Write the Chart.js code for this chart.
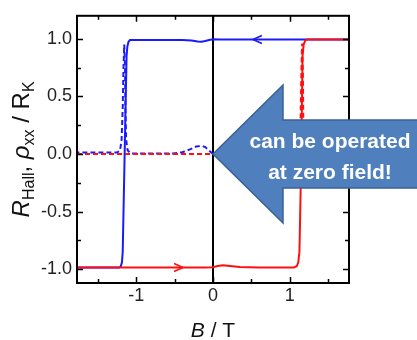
<!DOCTYPE html>
<html><head><meta charset="utf-8">
<script src="https://cdn.jsdelivr.net/npm/chart.js@4.4.0/dist/chart.umd.min.js"></script>
<style>html,body{margin:0;padding:0;background:#fff;}#wrap{width:417px;height:340px;}</style>
</head><body><div id="wrap"><canvas id="c" width="417" height="340"></canvas></div>
<script>
// ---- data ----
const xTicks = [-1, 0, 1];
const xMinorTicks = [-1.5, -0.5, 0.5, 1.5];
const yTicks = [-1, -0.5, 0, 0.5, 1];
const yMinorTicks = [-0.75, -0.25, 0.25, 0.75];

// Hall resistance, sweep down (blue)
const blueHallB = [1.77, 1.0, 0.5, 0.2, 0.08, 0.0, -0.05, -0.1, -0.15, -0.2, -0.28, -0.4, -0.7, -1.0, -1.08, -1.10, -1.115, -1.125, -1.15, -1.175, -1.185, -1.20, -1.22, -1.3, -1.77];
const blueHallR = [0.995, 0.995, 0.995, 0.995, 0.995, 0.997, 0.99, 0.982, 0.975, 0.977, 0.986, 0.99, 0.99, 0.99, 0.99, 0.975, 0.93, 0.85, 0.0, -0.85, -0.94, -0.975, -0.985, -0.985, -0.985];
// Hall resistance, sweep up (red)
const redHallB = [-1.77, -0.5, -0.1, 0.0, 0.06, 0.13, 0.22, 0.35, 0.6, 1.0, 1.05, 1.09, 1.11, 1.125, 1.15, 1.165, 1.18, 1.20, 1.22, 1.4, 1.77];
const redHallR = [-0.985, -0.985, -0.985, -0.983, -0.972, -0.965, -0.972, -0.982, -0.985, -0.985, -0.985, -0.975, -0.94, -0.85, 0.0, 0.85, 0.95, 0.985, 0.995, 0.995, 0.995];
// longitudinal resistivity, sweep down (blue dashed)
const blueRhoB = [1.77, 0.5, 0.0, -0.05, -0.1, -0.15, -0.22, -0.3, -0.4, -0.52, -0.8, -1.07, -1.11, -1.13, -1.14, -1.145, -1.155, -1.165, -1.175, -1.19, -1.21, -1.25, -1.5, -1.77];
const blueRhoV = [0.0, 0.0, 0.0, 0.03, 0.06, 0.07, 0.065, 0.04, 0.015, 0.005, 0.005, 0.005, 0.03, 0.12, 0.4, 0.75, 0.95, 0.75, 0.4, 0.12, 0.03, 0.012, 0.012, 0.012];
// longitudinal resistivity, sweep up (red dashed)
const redRhoB = [-1.77, -1.0, 0.0, 0.5, 1.08, 1.12, 1.14, 1.15, 1.16, 1.17, 1.175, 1.19, 1.22, 1.5, 1.77];
const redRhoV = [0.0, 0.0, 0.0, 0.0, 0.0, 0.03, 0.3, 0.7, 0.96, 0.7, 0.3, 0.05, 0.0, 0.0, 0.0];

// sweep-direction markers (field value, resistance, direction)
const sweepMarkB = [0.52, -0.39];
const sweepMarkR = [0.995, -0.985];
const sweepMarkDir = [-1, 1];

const BLUE = '#1a1aff', RED = '#ff1010';
const FONT = '"Liberation Sans", Arial, sans-serif';
const pts = (b, v) => b.map((x, i) => ({x, y: v[i]}));

const decor = {
  id: 'decor',
  beforeDatasetsDraw(chart) {
    const {ctx, chartArea: a, scales: {x}} = chart;
    const px = Math.round(x.getPixelForValue(0));
    ctx.save();
    ctx.strokeStyle = '#000'; ctx.lineWidth = 2;
    ctx.beginPath(); ctx.moveTo(px, a.top); ctx.lineTo(px, a.bottom); ctx.stroke();
    ctx.restore();
  },
  afterDatasetsDraw(chart) {
    const {ctx, chartArea: a, scales: {x, y}} = chart;
    ctx.save();
    // sweep direction chevrons
    const cols = [BLUE, RED];
    sweepMarkB.forEach((b, i) => {
      const px = x.getPixelForValue(b), py = y.getPixelForValue(sweepMarkR[i]), d = sweepMarkDir[i];
      ctx.strokeStyle = cols[i]; ctx.lineWidth = 1.6;
      ctx.beginPath();
      ctx.moveTo(px - d * 9, py - 4); ctx.lineTo(px, py); ctx.lineTo(px - d * 9, py + 4);
      ctx.stroke();
    });
    // frame
    ctx.strokeStyle = '#000'; ctx.lineWidth = 2;
    ctx.strokeRect(a.left, a.top, a.right - a.left, a.bottom - a.top);
    // inward ticks on all sides
    ctx.lineWidth = 1.5;
    ctx.beginPath();
    const xt = (vals, len) => vals.forEach(v => {
      const p = Math.round(x.getPixelForValue(v)) + 0.5;
      ctx.moveTo(p, a.bottom); ctx.lineTo(p, a.bottom - len);
      ctx.moveTo(p, a.top); ctx.lineTo(p, a.top + len);
    });
    const yt = (vals, len) => vals.forEach(v => {
      const p = Math.round(y.getPixelForValue(v)) + 0.5;
      ctx.moveTo(a.left, p); ctx.lineTo(a.left + len, p);
      ctx.moveTo(a.right, p); ctx.lineTo(a.right - len, p);
    });
    xt(xTicks, 6); xt(xMinorTicks, 4); yt(yTicks, 6); yt(yMinorTicks, 4);
    ctx.stroke();
    ctx.restore();
  },
  afterDraw(chart) {
    const {ctx, chartArea: a, scales: {x, y}} = chart;
    ctx.save();
    ctx.fillStyle = '#111';
    // x title
    const xr = [{t: 'B', f: 'italic 21px ' + FONT}, {t: ' / T', f: '21px ' + FONT}];
    let w = 0; xr.forEach(r => { ctx.font = r.f; r.w = ctx.measureText(r.t).width; w += r.w; });
    let cx = (a.left + a.right) / 2 - w / 2;
    ctx.textBaseline = 'alphabetic'; ctx.textAlign = 'left';
    xr.forEach(r => { ctx.font = r.f; ctx.fillText(r.t, cx, 337); cx += r.w; });
    // y title (rotated)
    const yr = [
      {t: 'R', f: 'italic 24px ' + FONT, d: 0},
      {t: 'Hall', f: '16px ' + FONT, d: 5},
      {t: ', ', f: '24px ' + FONT, d: 0},
      {t: 'ρ', f: 'italic 24px ' + FONT, d: 0},
      {t: 'xx', f: '16px ' + FONT, d: 5},
      {t: ' / R', f: '24px ' + FONT, d: 0},
      {t: 'K', f: '16px ' + FONT, d: 5}
    ];
    w = 0; yr.forEach(r => { ctx.font = r.f; r.w = ctx.measureText(r.t).width; w += r.w; });
    ctx.translate(29, (a.top + a.bottom) / 2);
    ctx.rotate(-Math.PI / 2);
    let cy = -w / 2;
    yr.forEach(r => { ctx.font = r.f; ctx.fillText(r.t, cy, r.d); cy += r.w; });
    ctx.restore();

    // callout arrow pointing at zero field
    ctx.save();
    const tx = x.getPixelForValue(0), ty = y.getPixelForValue(0);
    const headLen = 70, headH = 69, shaftH = 34, endX = chart.width + 10;
    ctx.beginPath();
    ctx.moveTo(tx, ty);
    ctx.lineTo(tx + headLen, ty - headH);
    ctx.lineTo(tx + headLen, ty - shaftH);
    ctx.lineTo(endX, ty - shaftH);
    ctx.lineTo(endX, ty + shaftH);
    ctx.lineTo(tx + headLen, ty + shaftH);
    ctx.lineTo(tx + headLen, ty + headH);
    ctx.closePath();
    ctx.fillStyle = '#4f7fbc';
    ctx.fill();
    ctx.strokeStyle = '#3a6194'; ctx.lineWidth = 1.5;
    ctx.stroke();
    ctx.fillStyle = '#fff';
    ctx.font = 'bold 21px ' + FONT;
    ctx.textAlign = 'center'; ctx.textBaseline = 'alphabetic';
    ctx.fillText('can be operated', tx + 117, ty - 6);
    ctx.fillText('at zero field!', tx + 117, ty + 25);
    ctx.restore();
  }
};

const tickFont = {family: FONT, size: 18};
new Chart(document.getElementById('c'), {
  type: 'line',
  data: {
    datasets: [
      {data: pts(redHallB, redHallR), borderColor: RED, borderWidth: 2},
      {data: pts(redRhoB, redRhoV), borderColor: RED, borderWidth: 2, borderDash: [5, 3]},
      {data: pts(blueHallB, blueHallR), borderColor: BLUE, borderWidth: 2},
      {data: pts(blueRhoB, blueRhoV), borderColor: BLUE, borderWidth: 2, borderDash: [5, 3]}
    ]
  },
  options: {
    responsive: false, animation: false, devicePixelRatio: 1,
    parsing: true,
    elements: {point: {radius: 0}, line: {tension: 0, fill: false}},
    layout: {padding: {left: 0, top: 12, right: 68, bottom: 0}},
    plugins: {legend: {display: false}, tooltip: {enabled: false}},
    scales: {
      x: {
        type: 'linear', min: -1.77, max: 1.77,
        grid: {display: false, drawTicks: false}, border: {display: false},
        afterBuildTicks: s => { s.ticks = xTicks.map(v => ({value: v})); },
        afterFit: s => { s.height = 57; },
        ticks: {font: tickFont, color: '#222', padding: 2, maxRotation: 0, callback: v => String(v)}
      },
      y: {
        type: 'linear', min: -1.12, max: 1.2,
        grid: {display: false, drawTicks: false}, border: {display: false},
        afterBuildTicks: s => { s.ticks = yTicks.map(v => ({value: v})); },
        afterFit: s => { s.width = 77; },
        ticks: {font: tickFont, color: '#222', padding: 5, callback: v => Number(v).toFixed(1)}
      }
    }
  },
  plugins: [decor]
});
</script>
</body></html>
